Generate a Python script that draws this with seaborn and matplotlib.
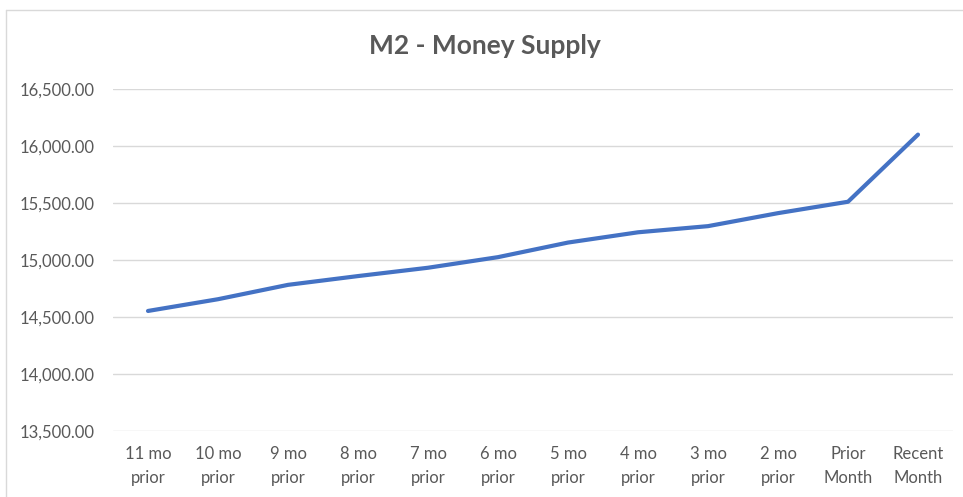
import matplotlib
matplotlib.use("Agg")
import seaborn as sns
from matplotlib import pyplot as plt
from matplotlib.lines import Line2D
from matplotlib.ticker import FuncFormatter, MultipleLocator

# data
months = ["11 mo\nprior", "10 mo\nprior", "9 mo\nprior", "8 mo\nprior",
          "7 mo\nprior", "6 mo\nprior", "5 mo\nprior", "4 mo\nprior",
          "3 mo\nprior", "2 mo\nprior", "Prior\nMonth", "Recent\nMonth"]
m2_values = [14553, 14656, 14782, 14859, 14932, 15025,
             15153, 15243, 15297, 15411, 15511, 16100]

TEXT = "#595959"
GRID = "#D9D9D9"
LINE = "#4472C4"

sns.set_theme(style="white")
plt.rcParams["font.family"] = ["Lato", "DejaVu Sans"]

fig = plt.figure(figsize=(9.63, 4.97), dpi=100)
ax = fig.add_axes([113 / 963, 1 - 431 / 497, 840 / 963, 342 / 497])

sns.lineplot(x=list(range(len(months))), y=m2_values, ax=ax,
             color=LINE, linewidth=3, sort=False)

ax.set_xlim(-0.5, len(months) - 0.5)
ax.set_ylim(13500, 16500)
ax.yaxis.set_major_locator(MultipleLocator(500))
ax.yaxis.set_major_formatter(FuncFormatter(lambda v, p: f"{v:,.2f}"))
ax.set_xticks(range(len(months)))
ax.set_xticklabels(months, linespacing=1.6)
ax.grid(axis="y", color=GRID, linewidth=1)
ax.set_axisbelow(True)
for s in ax.spines.values():
    s.set_visible(False)
ax.tick_params(axis="both", length=0, labelsize=12, colors=TEXT)
ax.tick_params(axis="y", pad=13)
ax.tick_params(axis="x", pad=11)
ax.set_xlabel("")
ax.set_ylabel("")

fig.text(485 / 963, 1 - 46 / 497, "M2 - Money Supply", ha="center", va="center",
         fontsize=19, fontweight="bold", color=TEXT)

# chart area border (top and left visible)
fig.add_artist(Line2D([6 / 963, 1], [1 - 10 / 497, 1 - 10 / 497],
                      transform=fig.transFigure, color=GRID, linewidth=1))
fig.add_artist(Line2D([6 / 963, 6 / 963], [0, 1 - 10 / 497],
                      transform=fig.transFigure, color=GRID, linewidth=1))

plt.savefig("out.png", dpi=100)
